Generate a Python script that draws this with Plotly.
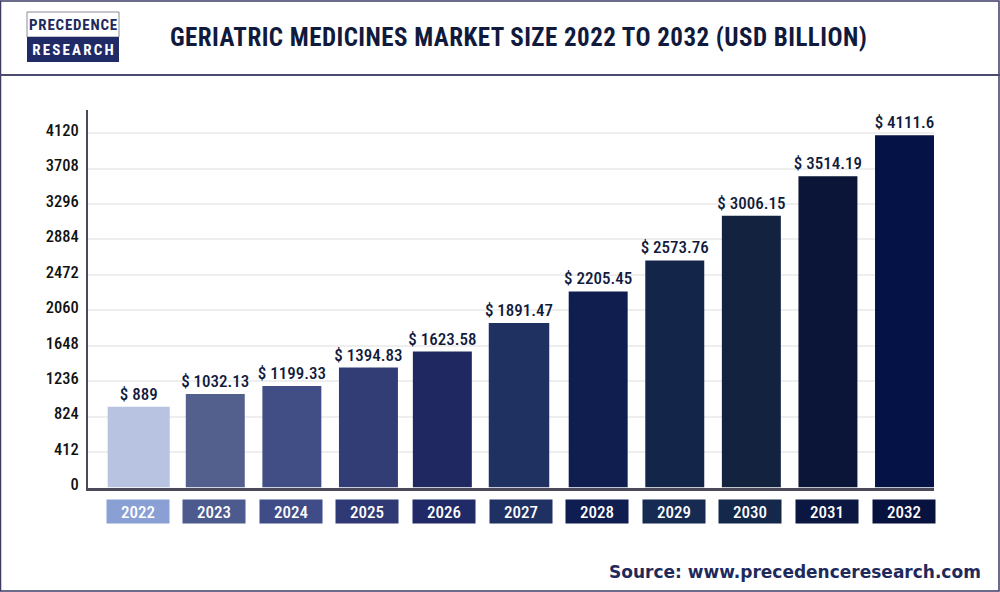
import plotly.graph_objects as go

# Load the data
years = ["2022", "2023", "2024", "2025", "2026", "2027", "2028", "2029", "2030", "2031", "2032"]
# bar heights as drawn against the axis (the picture does not follow its printed labels exactly)
bar_heights = [940, 1088, 1181, 1394, 1580, 1911, 2279, 2640, 3160, 3617, 4094]
value_labels = ["$ 889", "$ 1032.13", "$ 1199.33", "$ 1394.83", "$ 1623.58", "$ 1891.47",
                "$ 2205.45", "$ 2573.76", "$ 3006.15", "$ 3514.19", "$ 4111.6"]
y_ticks = [0, 412, 824, 1236, 1648, 2060, 2472, 2884, 3296, 3708, 4120]

bar_colors = ["#b7c3e0", "#535f8c", "#414d85", "#323c75", "#1f2860", "#1e3160",
              "#101d4f", "#14254a", "#13233f", "#0b1537", "#051245"]
pill_colors = ["#8a9fd4", "#4c5a8e", "#3f4c88", "#2f3a75", "#1f2a66", "#1f3163",
               "#101d50", "#162a52", "#13284a", "#0b1740", "#08123f"]
bar_widths = [0.81, 0.77, 0.77, 0.77, 0.77, 0.79, 0.77, 0.77, 0.77, 0.77, 0.77]
bar_shifts = [0, 0, 0, 0, -0.035, -0.034, 0, 0, 0, 0, 0]

NARROW = "Roboto Condensed, Oswald, Open Sans Condensed, DejaVu Sans Condensed, Liberation Sans"
NAVY = "#101a3c"

fig = go.Figure()

fig.add_trace(go.Bar(
    x=years,
    y=bar_heights,
    width=bar_widths,
    offset=[s - w / 2 for s, w in zip(bar_shifts, bar_widths)],
    marker=dict(color=bar_colors, line=dict(width=0)),
    text=value_labels,
    textposition="outside",
    constraintext="none",
    textfont=dict(family=NARROW, size=17, color=NAVY, weight=500),
    cliponaxis=False,
    showlegend=False,
))

# Year labels sit in coloured boxes under the axis
for i, color in enumerate(pill_colors):
    fig.add_annotation(
        x=i, y=0, xref="x", yref="y",
        text=years[i], showarrow=False,
        yanchor="top", yshift=-12, xshift=-1,
        width=62, height=23, bgcolor=color, borderpad=0,
        font=dict(family=NARROW, size=17, color="white", weight=500),
    )

# Title and source
fig.add_annotation(x=0.518, y=1 - 37 / 592, xref="paper", yref="paper", xanchor="center", yanchor="middle",
                   text="<b>GERIATRIC MEDICINES MARKET SIZE 2022 TO 2032 (USD BILLION)</b>", showarrow=False,
                   font=dict(family=NARROW, size=25, color=NAVY))
fig.add_annotation(x=0.983, y=1 - 572 / 592, xref="paper", yref="paper", xanchor="right", yanchor="middle",
                   text="<b>Source: www.precedenceresearch.com</b>", showarrow=False,
                   font=dict(family="DejaVu Sans", size=17, color="#1f2a5c"))

# Logo
fig.add_annotation(x=73 / 1000, y=1 - 25 / 592, xref="paper", yref="paper", xanchor="center", yanchor="middle",
                   text="<b>PRECEDENCE</b>", showarrow=False,
                   font=dict(family=NARROW, size=15, color="#1f2a5c"))
fig.add_annotation(x=74 / 1000, y=1 - 50 / 592, xref="paper", yref="paper", xanchor="center", yanchor="middle",
                   text="<b>RESEARCH</b>", showarrow=False,
                   font=dict(family=NARROW, size=15, color="white"))

page_shapes = [
    # page frame and header rule
    dict(x0=0.5, x1=999, y0=1, y1=591, line=dict(color="#3c3c64", width=1.5)),
    dict(x0=0, x1=1000, y0=75, y1=75, line=dict(color="#4a4a6e", width=2), type="line"),
    # logo boxes
    dict(x0=27, x1=119, y0=12, y1=37, line=dict(color="#8a8a99", width=1)),
    dict(x0=27, x1=119, y0=37, y1=62, line=dict(width=0), fillcolor="#1f2a66"),
]
for s in page_shapes:
    s.setdefault("type", "rect")
    fig.add_shape(type=s["type"], xref="paper", yref="paper", x0=s["x0"] / 1000, x1=s["x1"] / 1000,
                  y0=1 - s["y0"] / 592, y1=1 - s["y1"] / 592,
                  line=s["line"], fillcolor=s.get("fillcolor"), layer="below")

# Update layout
fig.update_layout(
    width=1000,
    height=592,
    margin=dict(l=0, r=0, t=0, b=0),
    paper_bgcolor="white",
    plot_bgcolor="white",
    xaxis=dict(
        domain=[0.088, 0.934],
        type="category",
        range=[-0.662, 10.385],
        automargin=False,
        showticklabels=False,
        showgrid=False,
        showline=True,
        linecolor="#4a4a5a",
        linewidth=3,
        ticks="",
    ),
    yaxis=dict(
        domain=[1 - 487.5 / 592, 1 - 110 / 592],
        range=[0, 4388],
        automargin=False,
        tickvals=y_ticks,
        showgrid=True,
        gridcolor="#eeeeee",
        gridwidth=1.5,
        zeroline=False,
        showline=True,
        linecolor="#4a4a5a",
        linewidth=2,
        ticks="",
        ticklabelstandoff=4,
        ticklabelshift=-3,
        tickfont=dict(family=NARROW, size=16.5, color="#111111", weight=500),
    ),
)

# Page margin off, spaced lettering on the condensed text
post = """
document.body.style.margin = '0';
document.documentElement.style.overflow = 'hidden';
document.querySelectorAll('.annotation-text').forEach(function (t) {
  var s = t.textContent;
  if (s === 'PRECEDENCE') { t.style.letterSpacing = '0.8px'; }
  else if (s === 'RESEARCH') { t.style.letterSpacing = '2.2px'; }
  else if (s.indexOf('GERIATRIC') === 0) { t.style.letterSpacing = '0.45px'; }
});
"""

# Save the chart
fig.write_html("out.html", post_script=post, config=dict(displayModeBar=False))
